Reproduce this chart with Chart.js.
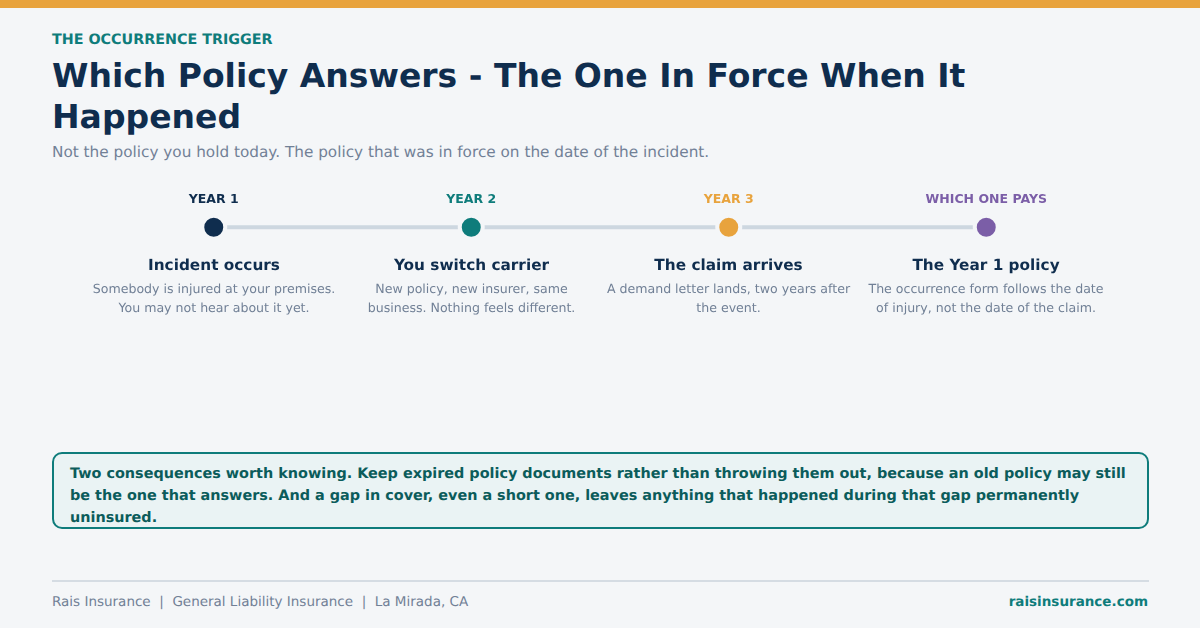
<!DOCTYPE html>
<html>
<head>
<meta charset="utf-8">
<title>The Occurrence Trigger</title>
<script src="https://cdn.jsdelivr.net/npm/chart.js@4"></script>
<style>
  html, body { margin: 0; padding: 0; }
  body {
    position: relative; width: 1200px; height: 628px; overflow: hidden;
    background: #f4f6f8; font-family: "DejaVu Sans", sans-serif;
    text-rendering: geometricPrecision;
  }
  body > div { position: absolute; }
  #topBar { left: 0; top: 0; width: 1200px; height: 8px; background: #e8a33d; }
  #eyebrow { left: 52px; top: 31px; font-size: 14.3px; line-height: 18px; font-weight: 700; color: #0e7c7b; }
  #title { left: 52px; top: 55px; width: 1096px; font-size: 33px; line-height: 41px; font-weight: 700; color: #0f2d4e; }
  #subtitle { left: 52px; top: 142px; font-size: 15.28px; line-height: 20px; color: #718096; }
  #chartBox { left: 85px; top: 180px; width: 1030px; height: 80px; }
  .step { top: 255px; width: 257px; text-align: center; }
  .step h3 { margin: 0; font-size: 15.3px; line-height: 20px; font-weight: 700; color: #0f2d4e; }
  .step p { margin: 4px 0 0; font-size: 12.58px; line-height: 19px; color: #718096; white-space: pre-line; }
  #callout {
    left: 52px; top: 452px; width: 1097px; height: 77px; box-sizing: border-box;
    border: 2px solid #0e7c7b; border-radius: 10px; background: #eaf3f4;
    padding: 9px 16px 0; font-size: 14.4px; line-height: 22px; font-weight: 700; color: #0b5c5b;
  }
  #footLine { left: 52px; top: 580px; width: 1097px; height: 2px; background: #d5dce3; }
  #footLeft { left: 52px; top: 593px; font-size: 13.5px; line-height: 18px; color: #718096; white-space: pre; }
  #footRight { right: 52px; top: 593px; font-size: 13.5px; line-height: 18px; font-weight: 700; color: #0e7c7b; }
</style>
</head>
<body>
<div id="topBar"></div>
<div id="eyebrow">THE OCCURRENCE TRIGGER</div>
<div id="title">Which Policy Answers - The One In Force When It Happened</div>
<div id="subtitle">Not the policy you hold today. The policy that was in force on the date of the incident.</div>
<div id="chartBox"><canvas id="timeline"></canvas></div>
<div id="callout">Two consequences worth knowing. Keep expired policy documents rather than throwing them out, because an old policy may still be the one that answers. And a gap in cover, even a short one, leaves anything that happened during that gap permanently uninsured.</div>
<div id="footLine"></div>
<div id="footLeft">Rais Insurance  |  General Liability Insurance  |  La Mirada, CA</div>
<div id="footRight">raisinsurance.com</div>

<script>
const categories = ['YEAR 1', 'YEAR 2', 'YEAR 3', 'WHICH ONE PAYS'];
const trackValues = [0, 0, 0, 0];
const dotColors = ['#0f2d4e', '#0e7c7b', '#e8a33d', '#7b5ea7'];
const stepTitles = ['Incident occurs', 'You switch carrier', 'The claim arrives', 'The Year 1 policy'];
const stepTexts = [
    'Somebody is injured at your premises.\nYou may not hear about it yet.',
    'New policy, new insurer, same\nbusiness. Nothing feels different.',
    'A demand letter lands, two years after\nthe event.',
    'The occurrence form follows the date\nof injury, not the date of the claim.'
];
const stepCentres = [214, 471.5, 728.5, 986];

// step captions under the dots
stepTitles.forEach((title, i) => {
    const el = document.createElement('div');
    el.className = 'step';
    el.style.left = (stepCentres[i] - 128.5) + 'px';
    const h = document.createElement('h3');
    h.textContent = title;
    const p = document.createElement('p');
    p.textContent = stepTexts[i];
    el.append(h, p);
    document.body.appendChild(el);
});

new Chart(document.getElementById('timeline'), {
    type: 'line',
    data: {
        labels: categories,
        datasets: [{
            data: trackValues,
            borderColor: '#cdd7e0',
            borderWidth: 4,
            pointRadius: 11.5,
            pointBorderWidth: 4,
            pointBorderColor: '#f4f6f8',
            pointBackgroundColor: dotColors,
            clip: false
        }]
    },
    options: {
        responsive: true,
        maintainAspectRatio: false,
        animation: false,
        layout: { padding: 0, autoPadding: false },
        plugins: { legend: { display: false }, tooltip: { enabled: false } },
        scales: {
            x: {
                position: 'top',
                offset: true,
                grid: { display: false, drawTicks: false },
                border: { display: false },
                ticks: {
                    maxRotation: 0,
                    padding: 12,
                    color: ctx => dotColors[ctx.index],
                    font: { family: '"DejaVu Sans"', size: 12.5, weight: 'bold' }
                }
            },
            y: { display: false, min: -3.93, max: 1 }
        }
    }
});
</script>
</body>
</html>
